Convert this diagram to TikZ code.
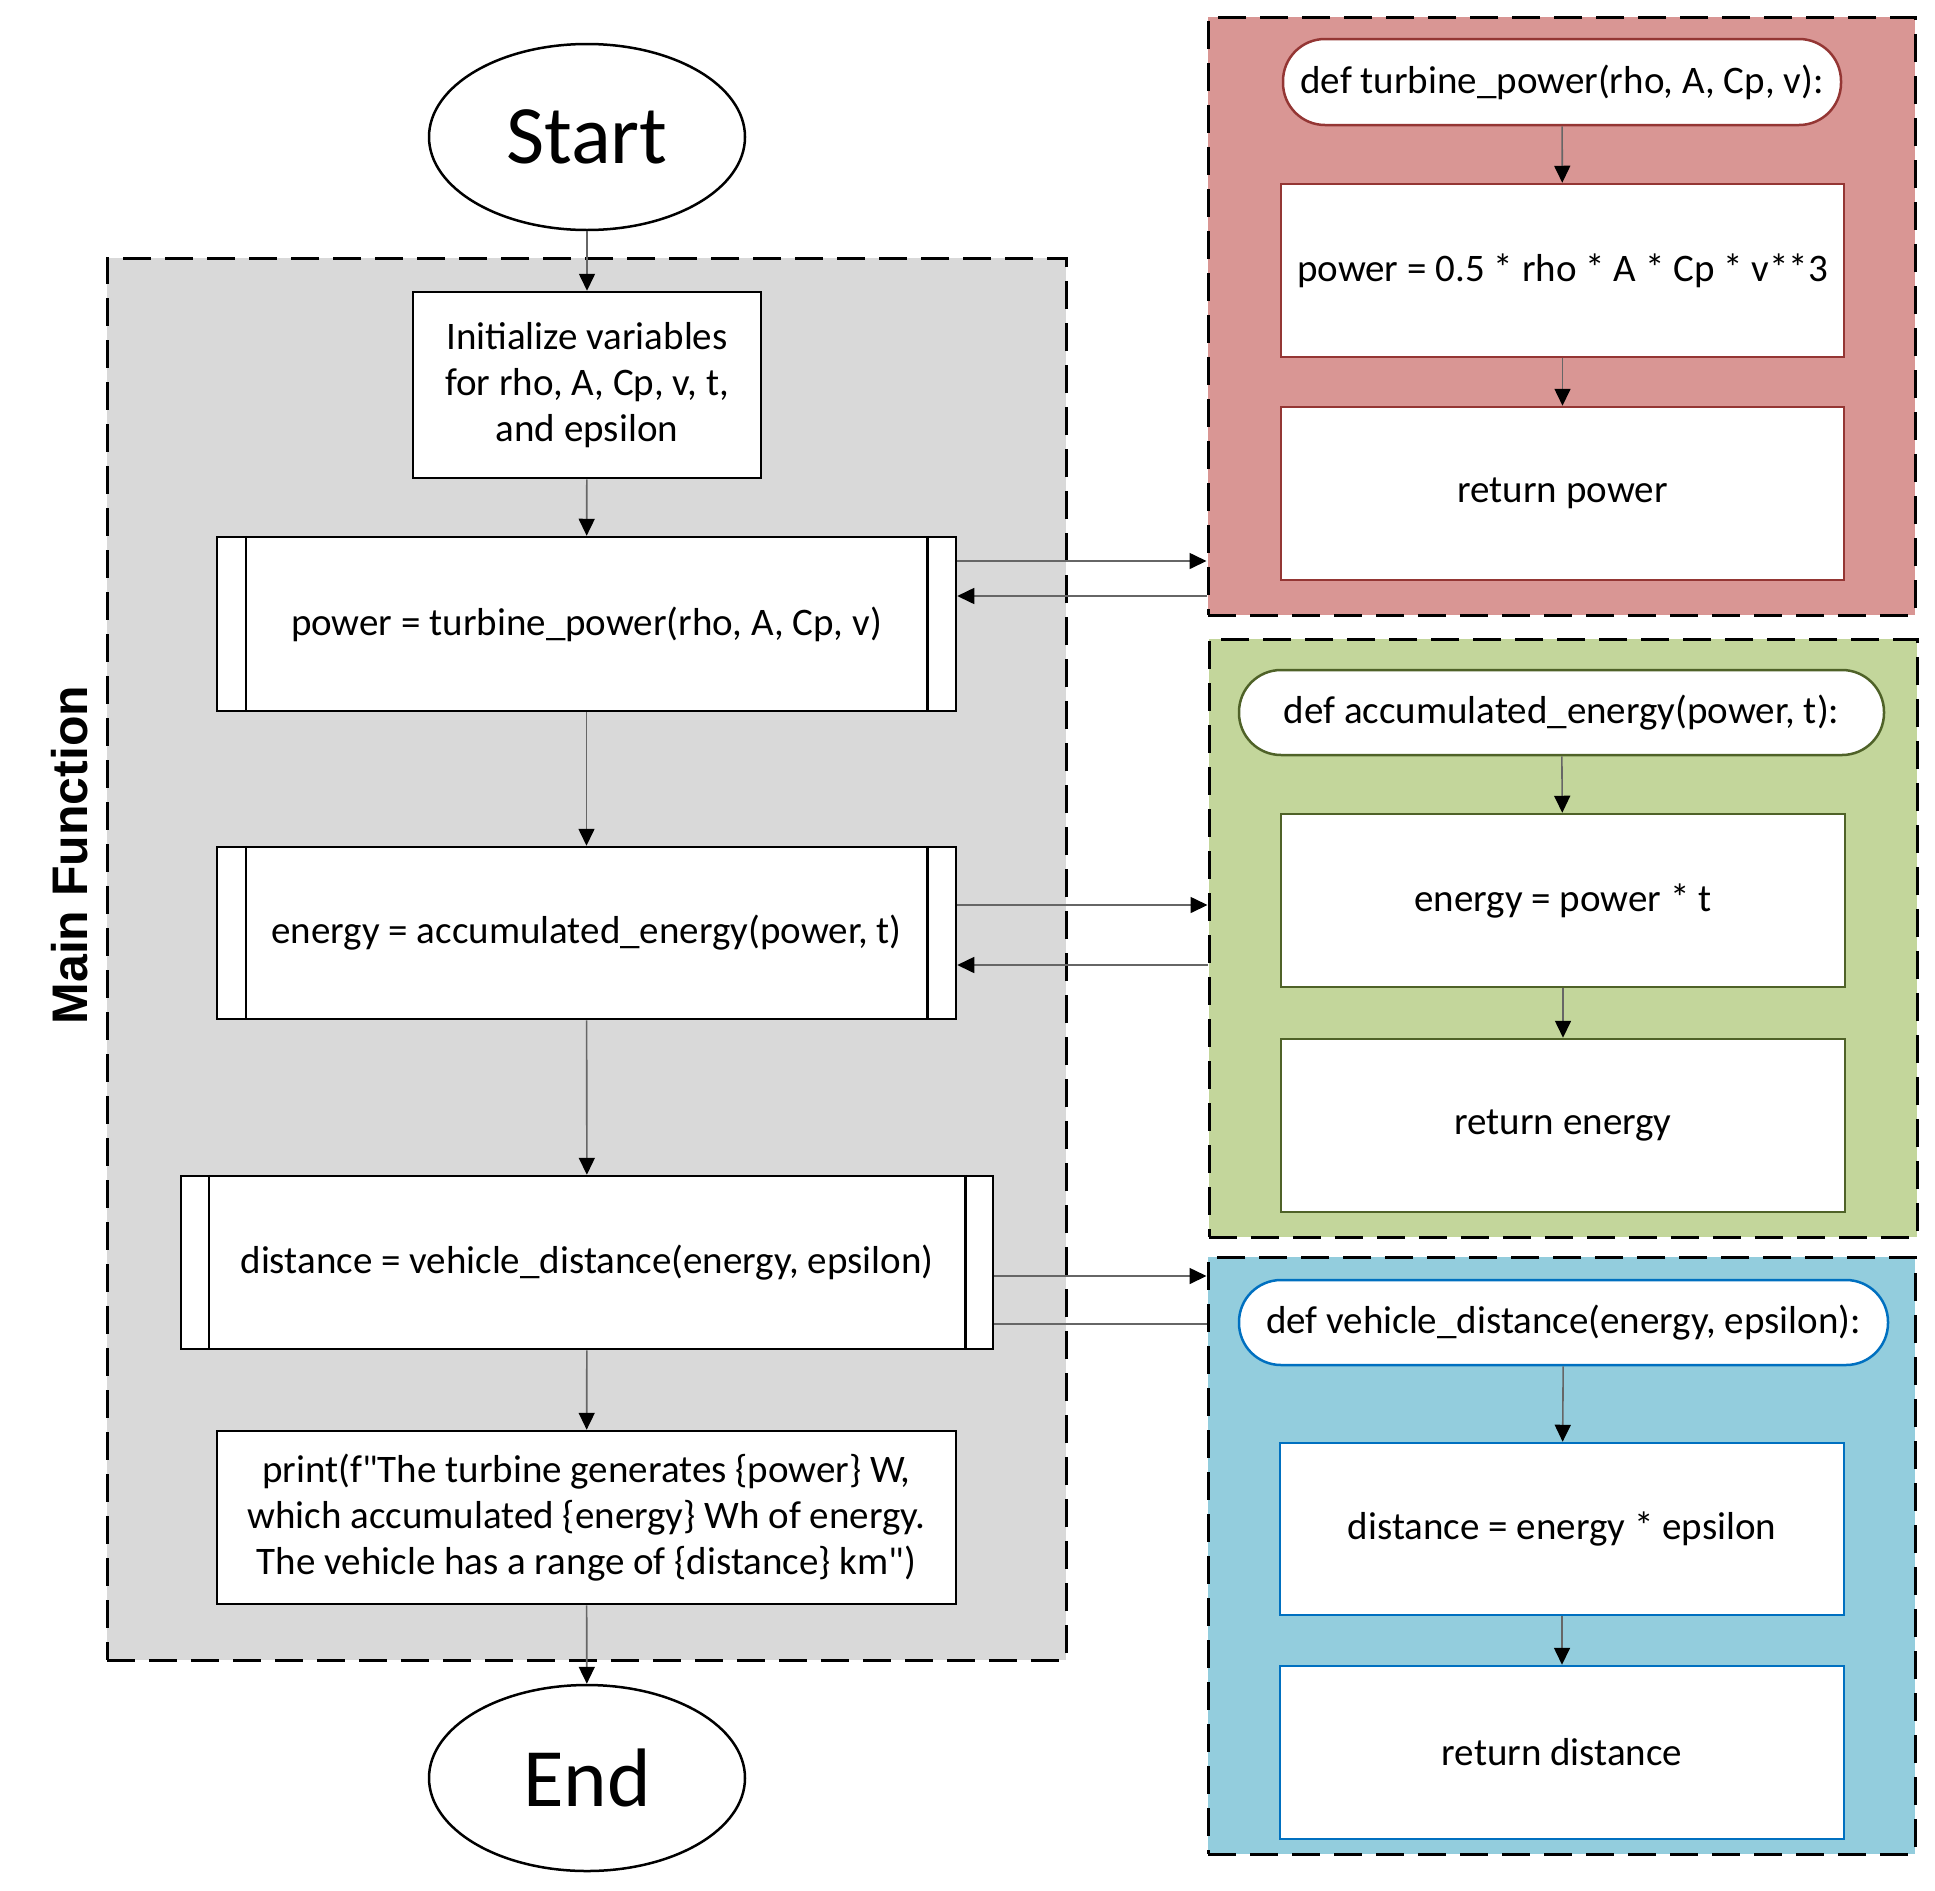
\documentclass[tikz,border=0pt]{standalone}
\usepackage{fontspec}
\setmainfont{Carlito}[Ligatures=TeXOff]
\newfontfamily\labfont{Liberation Sans}
\usetikzlibrary{arrows.meta,shapes.geometric}
\definecolor{mgray}{HTML}{D9D9D9}
\definecolor{redfill}{HTML}{D99694}
\definecolor{redline}{HTML}{943634}
\definecolor{greenfill}{HTML}{C3D69B}
\definecolor{greenline}{HTML}{4F6228}
\definecolor{bluefill}{HTML}{93CDDD}
\definecolor{blueline}{HTML}{0070C0}
\tikzset{
  txt/.style={font=\fontsize{39}{46}\selectfont},
  box/.style={txt, draw=black, line width=2.5pt, fill=white, rectangle, inner sep=0pt, align=center},
  oval/.style={draw=black, line width=2.5pt, fill=white, ellipse, inner sep=0pt,
     minimum width=316pt, minimum height=186pt, font=\fontsize{83}{96}\selectfont},
  group/.style={rectangle, line width=3pt, draw=black, dash pattern=on 28pt off 14pt, inner sep=0pt},
  term/.style={txt, rectangle, rounded corners=42pt, fill=white, line width=2.5pt, inner sep=0pt},
  sbox/.style={txt, rectangle, fill=white, line width=2.5pt, inner sep=0pt, minimum width=563pt, minimum height=173pt},
  conn/.style={draw=black!60, line width=1.6pt, -{Triangle[length=17pt,width=16pt,color=black]}},
  plain/.style={draw=black!60, line width=1.6pt},
}
\begin{document}
\begin{tikzpicture}[x=1pt,y=-1pt]
\useasboundingbox (0,0) rectangle (1935,1890);
% main group
\node[group, fill=mgray, minimum width=959pt, minimum height=1402pt] (maing) at (586.5,959) {};
\node[font=\labfont\bfseries\fontsize{50}{60}\selectfont, rotate=90] (mainlab) at (70,855) {Main Function};
% groups
\node[group, fill=redfill, minimum width=707pt, minimum height=598pt] (redg) at (1561.5,316) {};
\node[group, fill=greenfill, minimum width=708pt, minimum height=598pt] (greeng) at (1563,938) {};
\node[group, fill=bluefill, minimum width=707pt, minimum height=597pt] (blueg) at (1561.5,1555.5) {};
% main flow
\node[oval] (start) at (587,137) {Start};
\node[box, minimum width=348pt, minimum height=186pt] (init) at (587,385) {Initialize variables\\for rho, A, Cp, v, t,\\and epsilon};
\node[box, minimum width=739pt, minimum height=174pt] (pw) at (586.5,624) {power = turbine\_power(rho, A, Cp, v)};
\node[box, minimum width=739pt, minimum height=172pt] (en) at (586.5,933) {energy = accumulated\_energy(power, t)};
\node[box, minimum width=812pt, minimum height=173pt] (di) at (587,1262.5) {distance = vehicle\_distance(energy, epsilon)};
\node[box, minimum width=739pt, minimum height=173pt] (pr) at (586.5,1517.5) {print(f"The turbine generates \{power\} W,\\which accumulated \{energy\} Wh of energy.\\The vehicle has a range of \{distance\} km")};
\node[oval] (end) at (587,1778) {End};
\foreach \n/\d in {pw/30,en/30,di/29}{
  \draw[line width=2.5pt] ([xshift=\d pt]\n.north west) -- ([xshift=\d pt]\n.south west);
  \draw[line width=2.5pt] ([xshift=-\d pt]\n.north east) -- ([xshift=-\d pt]\n.south east);
}
% red group contents
\node[term, draw=redline, minimum width=558pt, minimum height=86pt] (rt) at (1562,82) {def turbine\_power(rho, A, Cp, v):};
\node[sbox, draw=redline] (rb1) at (1562.5,270.5) {power = 0.5 * rho * A * Cp * v**3};
\node[sbox, draw=redline] (rb2) at (1562.5,493.5) {return power};
% green group contents
\node[term, draw=greenline, minimum width=645pt, minimum height=85pt] (gt) at (1561.5,712.5) {def accumulated\_energy(power, t):};
\node[sbox, draw=greenline, minimum width=564pt] (gb1) at (1563,900.5) {energy = power * t};
\node[sbox, draw=greenline, minimum width=564pt] (gb2) at (1563,1125.5) {return energy};
% blue group contents
\node[term, draw=blueline, minimum width=649pt, minimum height=85pt] (bt) at (1563.5,1322.5) {def vehicle\_distance(energy, epsilon):};
\node[sbox, draw=blueline, minimum width=564pt, minimum height=172pt] (bb1) at (1562,1529) {distance = energy * epsilon};
\node[sbox, draw=blueline, minimum width=564pt] (bb2) at (1562,1752.5) {return distance};
% main vertical arrows
\draw[conn] (start) -- (init);
\draw[conn] (init) -- (pw);
\draw[conn] (pw) -- (en);
\draw[conn] (en) -- (di);
\draw[conn] (di) -- (pr);
\draw[conn] (pr) -- (end);
% group internal arrows
\draw[conn] (rt) -- (rb1);
\draw[conn] (rb1) -- (rb2);
\draw[conn] (gt) -- (gb1);
\draw[conn] (gb1) -- (gb2);
\draw[conn] (bt) -- (bb1);
\draw[conn] (bb1) -- (bb2);
% calls and returns
\draw[conn] (pw.east |- 0,561) -- (redg.west |- 0,561);
\draw[conn] (redg.west |- 0,596) -- (pw.east |- 0,596);
\draw[conn] (en.east |- 0,905) -- (greeng.west |- 0,905);
\draw[conn] (greeng.west |- 0,965) -- (en.east |- 0,965);
\draw[conn] (di.east |- 0,1276) -- (blueg.west |- 0,1276);
\draw[plain] (blueg.west |- 0,1324) -- (di.east |- 0,1324);
\end{tikzpicture}
\end{document}
